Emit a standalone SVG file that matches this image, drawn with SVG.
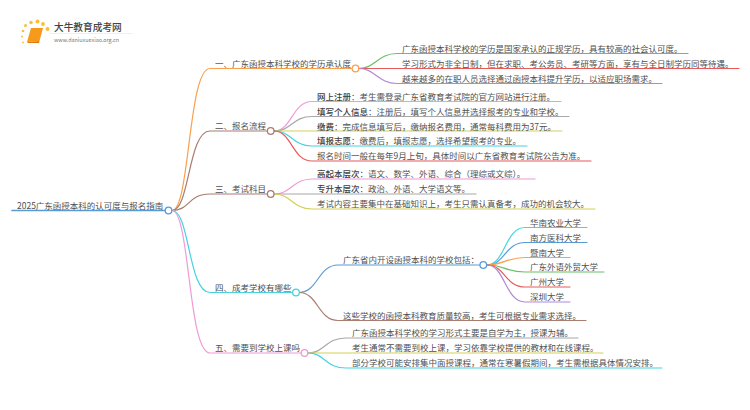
<svg xmlns="http://www.w3.org/2000/svg" width="750" height="410" viewBox="0 0 750 410">
<style>
text{font-family:"Noto Sans CJK SC","Noto Sans",sans-serif;font-size:8.5px;fill:#505050;transform:translateY(.5px)}
.b{font-weight:500;fill:#404040}
path{fill:none;stroke-width:1.2;stroke-linecap:round}
circle{fill:#fff;stroke-width:1.3}
.dot{fill:#f8c03a;stroke:none}
.o{stroke:#f9a04e}.br{stroke:#a87c6e}.c{stroke:#45d3e2}.pk{stroke:#f09ad8}.bl{stroke:#5b9bd5}.g{stroke:#66c266}.r{stroke:#e85a5a}.pu{stroke:#b088d8}.gy{stroke:#a8a8a8}.y{stroke:#d4cf55}
</style>
<rect width="750" height="410" fill="#fff"/>
<g id="logo">
<circle class="dot" cx="23" cy="31" r="1.300"/><circle class="dot" cx="25.500" cy="25.500" r="1.500"/><circle class="dot" cx="31" cy="22.500" r="1.800"/><circle class="dot" cx="37.500" cy="21.500" r="2"/><circle class="dot" cx="43" cy="24" r="1.900"/><circle class="dot" cx="47.500" cy="29" r="2"/><circle class="dot" cx="22" cy="36.500" r="1"/><circle class="dot" cx="23" cy="42.500" r=".9"/>
<polygon points="31,28 43,28 39.500,41 27,42" fill="#f59a1b"/>
<polygon points="27,42 39.500,41 39,43 28,43" fill="#e07b10"/>
<text x="54" y="30.500" style="font-size:9.700px;font-weight:500;fill:#444">大牛教育成考网</text>
<text x="54" y="41" style="font-size:5.400px;fill:#777">www.daniuxuexiao.org.cn</text>
<path d="M50 33.500H132" style="stroke:#e4e4e4;stroke-width:.6"/>
</g>
<g id="connectors">
<path class="bl" d="M12 210.500H168" style="stroke-width:1.700"/>
<path class="o" d="M172 210.500C190 210.500 188 68.500 210 68.500H352"/>
<path class="br" d="M172 210.500C190 210.500 188 131 210 131H268"/>
<path class="br" d="M172 210.500C190 210.500 188 194 210 194H268"/>
<path class="c" d="M172 210.500C190 210.500 188 292.500 210 292.500H293"/>
<path class="pk" d="M172 210.500C190 210.500 188 353 210 353H301"/>
<path class="g" d="M359 68.500C375 68.500 378 53.500 397 53.500H688"/>
<path class="r" d="M359 68.500H739"/>
<path class="pu" d="M359 68.500C375 68.500 378 83.500 397 83.500H662"/>
<path class="pk" d="M274 131C292 131 292 101.500 312 101.500H561"/>
<path class="gy" d="M274 131C292 131 292 116.500 312 116.500H569"/>
<path class="y" d="M274 131H562"/>
<path class="c" d="M274 131C292 131 292 146 312 146H527"/>
<path class="r" d="M274 131C292 131 292 161 312 161H591"/>
<path class="pk" d="M274 194C292 194 292 179 312 179H535"/>
<path class="gy" d="M274 194H476"/>
<path class="y" d="M274 194C292 194 292 209 312 209H595"/>
<path class="bl" d="M299 292.500C318 292.500 318 265 338 265H480"/>
<path class="br" d="M299 292.500C318 292.500 318 320.500 338 320.500H586"/>
<path class="c" d="M487 265C505 265 505 227.500 525 227.500H587"/>
<path class="bl" d="M487 265C505 265 505 242.500 525 242.500H587"/>
<path class="o" d="M487 265C505 265 505 257.500 525 257.500H570"/>
<path class="g" d="M487 265C505 265 505 272 525 272H604"/>
<path class="r" d="M487 265C505 265 505 287 525 287H570"/>
<path class="pu" d="M487 265C505 265 505 302 525 302H570"/>
<path class="gy" d="M308 353C325 353 325 338 346 338H578"/>
<path class="y" d="M308 353H603"/>
<path class="c" d="M308 353C325 353 325 368 346 368H662"/>
</g>
<g id="root"><text x="17" y="208">2025广东函授本科的认可度与报名指南</text><circle class="bl" cx="168.500" cy="210.500" r="3.300"/></g>
<g id="n1"><text x="215" y="66">一、广东函授本科学校的学历承认度</text><circle class="o" cx="355.500" cy="68.500" r="3.300"/></g>
<g id="n2"><text x="215" y="128.500">二、报名流程</text><circle class="br" cx="270.700" cy="131" r="3.300"/></g>
<g id="n3"><text x="215" y="191.500">三、考试科目</text><circle class="br" cx="270.700" cy="194" r="3.300"/></g>
<g id="n4"><text x="215" y="290">四、成考学校有哪些</text><circle class="c" cx="296" cy="292.500" r="3.300"/></g>
<g id="n5"><text x="215" y="350.500">五、需要到学校上课吗</text><circle class="pk" cx="304.500" cy="353" r="3.300"/></g>
<g id="n1a"><text x="402" y="51">广东函授本科学校的学历是国家承认的正规学历，具有较高的社会认可度。</text></g>
<g id="n1b"><text x="402" y="66">学习形式为非全日制，但在求职、考公务员、考研等方面，享有与全日制学历同等待遇。</text></g>
<g id="n1c"><text x="402" y="81">越来越多的在职人员选择通过函授本科提升学历，以适应职场需求。</text></g>
<g id="n2a"><text x="317" y="99"><tspan class="b">网上注册</tspan>：考生需登录广东省教育考试院的官方网站进行注册。</text></g>
<g id="n2b"><text x="317" y="114"><tspan class="b">填写个人信息</tspan>：注册后，填写个人信息并选择报考的专业和学校。</text></g>
<g id="n2c"><text x="317" y="129"><tspan class="b">缴费</tspan>：完成信息填写后，缴纳报名费用，通常每科费用为37元。</text></g>
<g id="n2d"><text x="317" y="143.500"><tspan class="b">填报志愿</tspan>：缴费后，填报志愿，选择希望报考的专业。</text></g>
<g id="n2e"><text x="317" y="158.500">报名时间一般在每年9月上旬，具体时间以广东省教育考试院公告为准。</text></g>
<g id="n3a"><text x="317" y="176.500"><tspan class="b">高起本层次</tspan>：语文、数学、外语、综合（理综或文综）。</text></g>
<g id="n3b"><text x="317" y="191.500"><tspan class="b">专升本层次</tspan>：政治、外语、大学语文等。</text></g>
<g id="n3c"><text x="317" y="206.500">考试内容主要集中在基础知识上，考生只需认真备考，成功的机会较大。</text></g>
<g id="n4a"><text x="343" y="262.500">广东省内开设函授本科的学校包括：</text><circle class="bl" cx="483.300" cy="265" r="3.300"/></g>
<g id="n4b"><text x="343" y="318">这些学校的函授本科教育质量较高，考生可根据专业需求选择。</text></g>
<g id="s1"><text x="530" y="225">华南农业大学</text></g>
<g id="s2"><text x="530" y="240">南方医科大学</text></g>
<g id="s3"><text x="530" y="255">暨南大学</text></g>
<g id="s4"><text x="530" y="269.500">广东外语外贸大学</text></g>
<g id="s5"><text x="530" y="284.500">广州大学</text></g>
<g id="s6"><text x="530" y="299.500">深圳大学</text></g>
<g id="n5a"><text x="352" y="335.500">广东函授本科学校的学习形式主要是自学为主，授课为辅。</text></g>
<g id="n5b"><text x="352" y="350.500">考生通常不需要到校上课，学习依靠学校提供的教材和在线课程。</text></g>
<g id="n5c"><text x="352" y="365.500">部分学校可能安排集中面授课程，通常在寒暑假期间，考生需根据具体情况安排。</text></g>
</svg>
